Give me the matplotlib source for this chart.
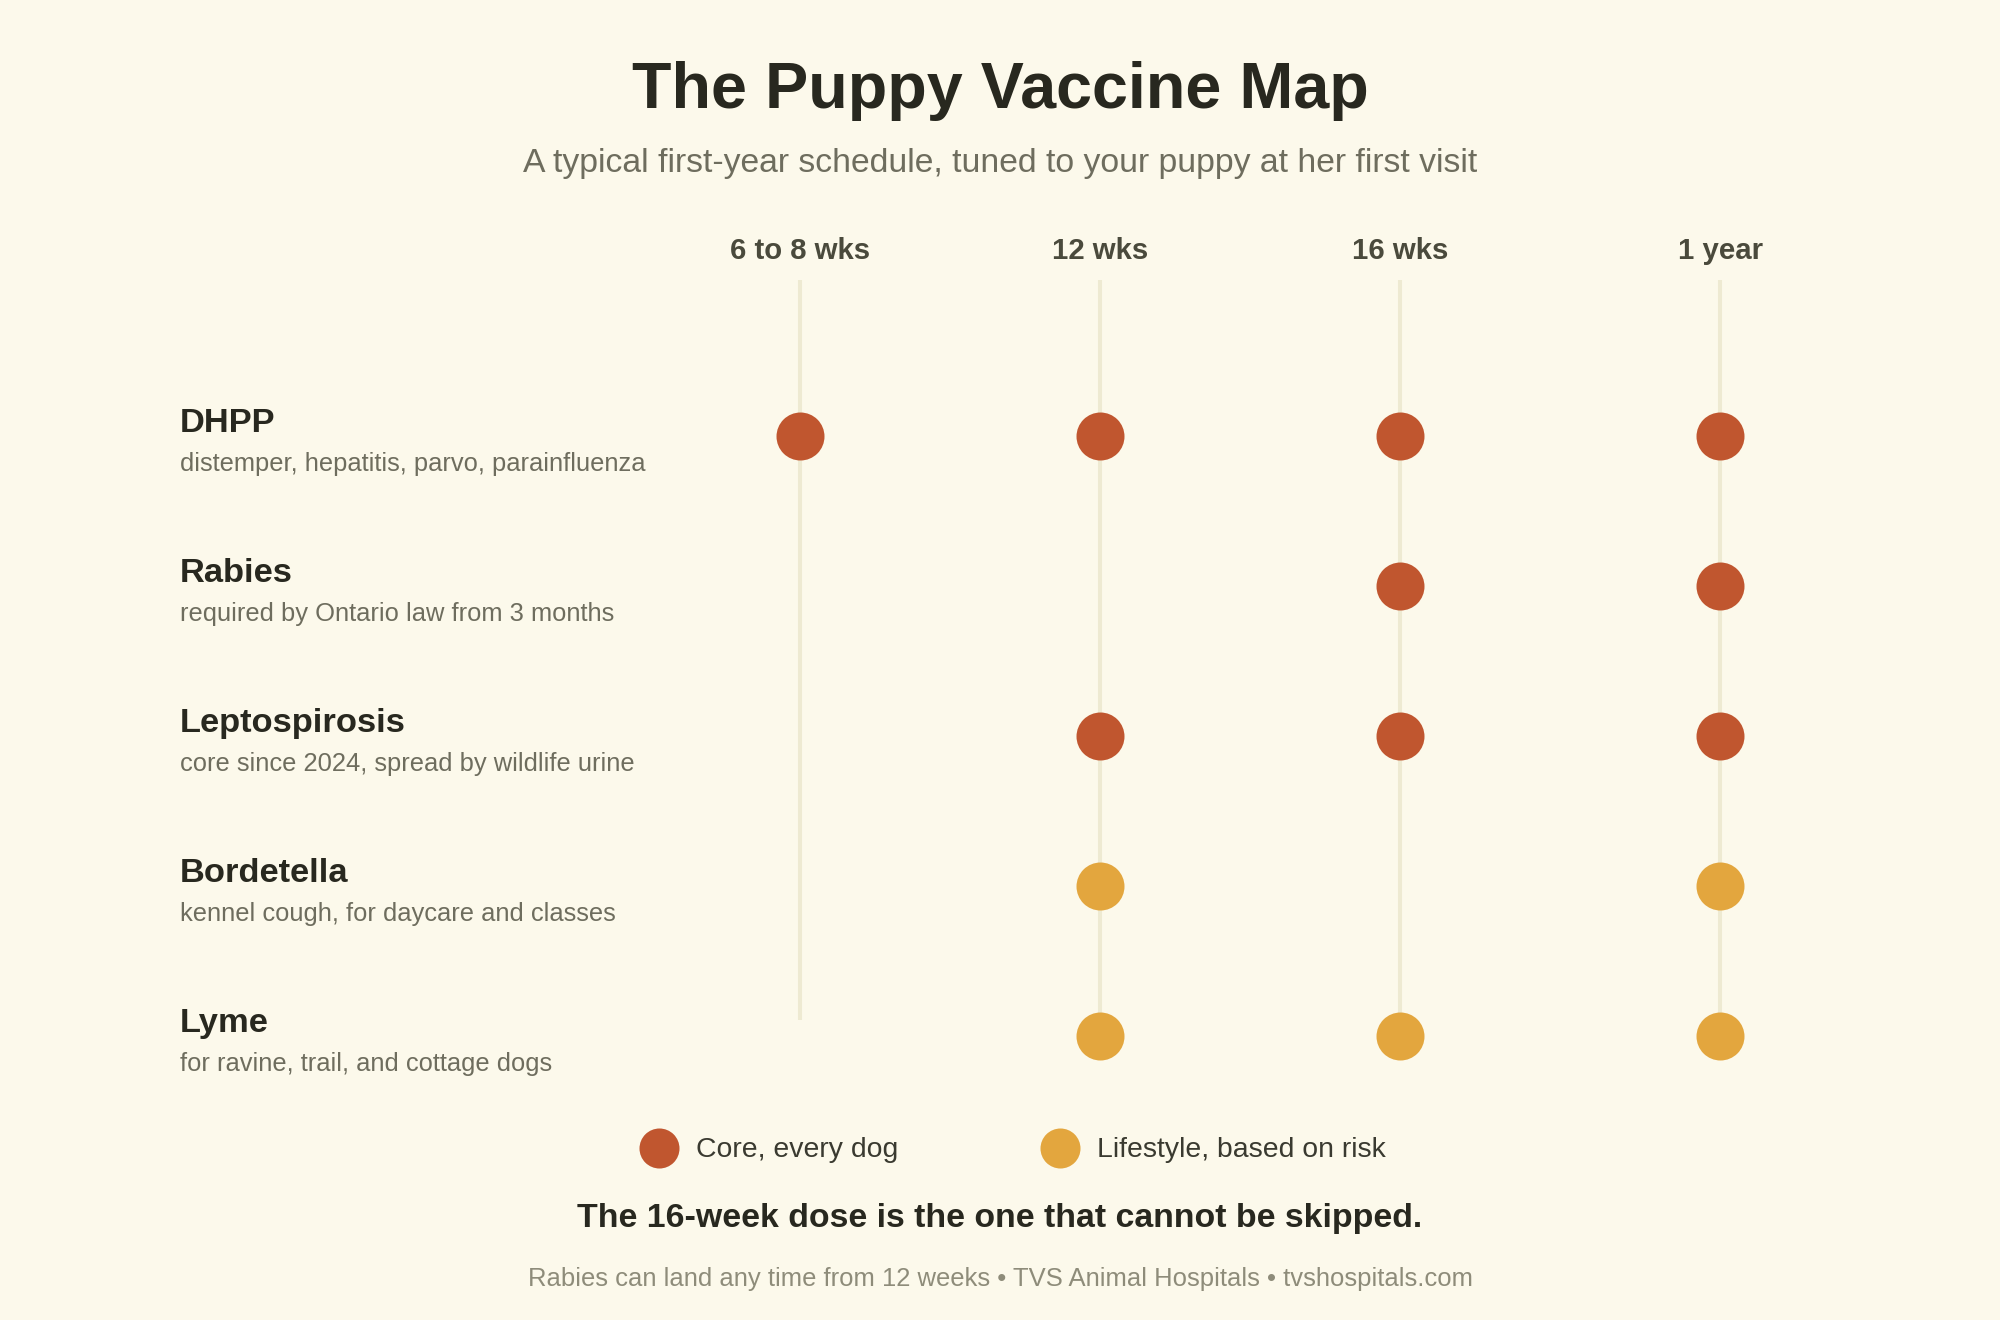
import matplotlib.pyplot as plt

plt.rcParams["font.family"] = ["Liberation Sans", "DejaVu Sans"]

# 데이터
timepoints = ["6 to 8 wks", "12 wks", "16 wks", "1 year"]
vaccines = ["DHPP", "Rabies", "Leptospirosis", "Bordetella", "Lyme"]
notes = [
    "distemper, hepatitis, parvo, parainfluenza",
    "required by Ontario law from 3 months",
    "core since 2024, spread by wildlife urine",
    "kennel cough, for daycare and classes",
    "for ravine, trail, and cottage dogs",
]
vaccine_type = ["core", "core", "core", "lifestyle", "lifestyle"]
# 1 = dose given at that visit
schedule = [
    [1, 1, 1, 1],
    [0, 0, 1, 1],
    [0, 1, 1, 1],
    [0, 1, 0, 1],
    [0, 1, 1, 1],
]
legend_labels = {"core": "Core, every dog", "lifestyle": "Lifestyle, based on risk"}

# 색상
BG = "#fcf9eb"
CORE = "#c0562f"
LIFE = "#e3a63e"
LINE = "#eeead2"
DARK = "#28281f"
GRAY = "#6e6d5e"
colors = {"core": CORE, "lifestyle": LIFE}

W, H = 2000, 1320
fig = plt.figure(figsize=(W / 100, H / 100), dpi=100, facecolor=BG)

# 전체 오버레이 (픽셀 좌표)
ov = fig.add_axes([0, 0, 1, 1])
ov.set_xlim(0, W)
ov.set_ylim(H, 0)
ov.axis("off")

# 그리드 axes: 1 column unit = 300 px, 1 row unit = 150 px
col_x = [0, 1, 2, 3.067]  # 1 year column sits a little further right
left_px, right_px, top_px, bot_px = 700, 1840, 260, 1080
ax = fig.add_axes([left_px / W, 1 - bot_px / H, (right_px - left_px) / W, (bot_px - top_px) / H])
ax.set_facecolor("none")
ax.set_xlim((left_px - 800) / 300, (right_px - 800) / 300)
ax.set_ylim((bot_px - 436) / 150, (top_px - 436) / 150)
ax.axis("off")

# 세로 선
for cx in col_x:
    ax.plot([cx, cx], [-1.04, 3.893], color=LINE, lw=2.9, solid_capstyle="butt", zorder=1)

# 점
for i, row in enumerate(schedule):
    xs = [col_x[j] for j, v in enumerate(row) if v]
    ax.scatter(xs, [i] * len(xs), s=1194, color=colors[vaccine_type[i]], linewidths=0, zorder=3)

# 열 제목
for j, t in enumerate(timepoints):
    ax.text(col_x[j], (259 - 436) / 150, t, ha="center", va="baseline",
            fontsize=21.2, fontweight="bold", color="#4a4a3c")

# 행 라벨
label_x = (180 - 800) / 300
for i, (name, note) in enumerate(zip(vaccines, notes)):
    ax.text(label_x, i - 4 / 150, name, ha="left", va="baseline",
            fontsize=24.8, fontweight="bold", color=DARK, clip_on=False)
    ax.text(label_x, i + 35 / 150, note, ha="left", va="baseline",
            fontsize=18.4, color=GRAY, clip_on=False)

# 제목
ov.text(1000, 108, "The Puppy Vaccine Map", ha="center", va="baseline",
        fontsize=46.5, fontweight="bold", color=DARK)
ov.text(1000, 172, "A typical first-year schedule, tuned to your puppy at her first visit",
        ha="center", va="baseline", fontsize=24.3, color=GRAY)

# 범례
for (key, mx, tx) in [("core", 659, 696), ("lifestyle", 1060, 1097)]:
    ov.scatter([mx], [1148], s=830, color=colors[key], linewidths=0)
    ov.text(tx, 1157, legend_labels[key], ha="left", va="baseline",
            fontsize=20.4, color="#3a3a30")

ov.text(1000, 1227, "The 16-week dose is the one that cannot be skipped.",
        ha="center", va="baseline", fontsize=24.4, fontweight="bold", color=DARK)
ov.text(1000, 1286,
        "Rabies can land any time from 12 weeks \u2022 TVS Animal Hospitals \u2022 tvshospitals.com",
        ha="center", va="baseline", fontsize=18.45, color="#8e8c7a")

fig.savefig("out.png", dpi=100, facecolor=BG)
